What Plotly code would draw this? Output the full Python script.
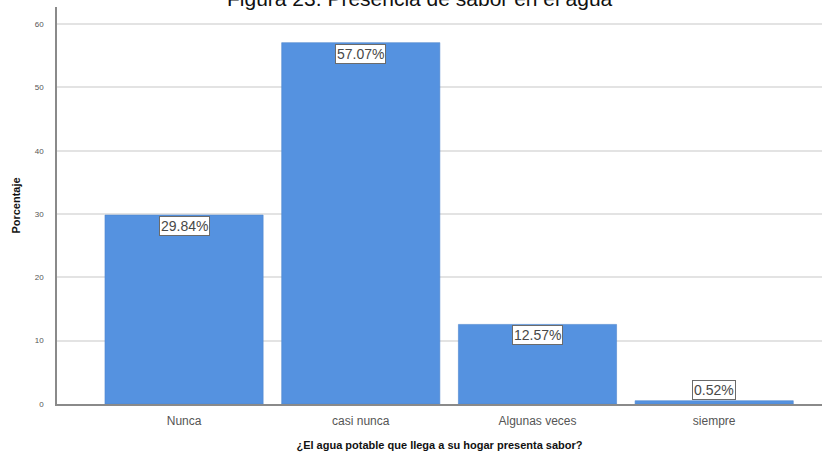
import plotly.graph_objects as go

categories = ["Nunca", "casi nunca", "Algunas veces", "siempre"]
percentages = [29.84, 57.07, 12.57, 0.52]
y_ticks = [0, 10, 20, 30, 40, 50, 60]

bar_color = "#5592e0"
font_family = "Liberation Sans, Arial, sans-serif"

fig = go.Figure()
fig.add_trace(go.Bar(
    x=list(range(len(categories))),
    y=percentages,
    width=0.895,
    marker=dict(color=bar_color, line=dict(color="#4f86cf", width=0.6)),
    hoverinfo="skip",
))

# value boxes sitting at the top of each bar
for i, v in enumerate(percentages):
    fig.add_annotation(
        x=i, y=v, xref="x", yref="y",
        text=f"{v:.2f}%",
        showarrow=False,
        yanchor="top" if v > 3 else "bottom",
        yshift=-1 if v > 3 else 1,
        font=dict(family=font_family, size=14, color="#484848"),
        bgcolor="white",
        bordercolor="#6b6b6b",
        borderwidth=1,
        borderpad=1,
    )

# chart heading, placed at the very top edge of the page
fig.add_annotation(
    x=0.474, y=1, xref="paper", yref="paper",
    xanchor="center", yanchor="middle", yshift=9,
    text="Figura 23. Presencia de sabor en el agua",
    showarrow=False,
    font=dict(family=font_family, size=21, color="#111111"),
)

fig.update_layout(
    width=832, height=461,
    margin=dict(l=57, r=10, t=7, b=57),
    paper_bgcolor="white",
    plot_bgcolor="white",
    showlegend=False,
    xaxis=dict(
        range=[-0.719, 3.61],
        tickmode="array",
        tickvals=list(range(len(categories))),
        ticktext=categories,
        ticks="",
        showgrid=False,
        showline=True, linecolor="#8a8a8a", linewidth=1.5,
        tickfont=dict(family=font_family, size=12, color="#555555"),
        ticklabelstandoff=5,
        title=dict(
            text="<b>¿El agua potable que llega a su hogar presenta sabor?</b>",
            font=dict(family=font_family, size=11, color="#111111"),
            standoff=14,
        ),
        zeroline=False,
    ),
    yaxis=dict(
        range=[0, 62.7],
        tickmode="array",
        tickvals=y_ticks,
        ticks="",
        showgrid=True, gridcolor="#e3e3e3", gridwidth=2,
        showline=True, linecolor="#8a8a8a", linewidth=1.5,
        zeroline=False,
        tickfont=dict(family=font_family, size=8, color="#555555"),
        ticklabelstandoff=10,
        title=dict(
            text="<b>Porcentaje</b>",
            font=dict(family=font_family, size=11, color="#111111"),
            standoff=12,
        ),
    ),
)

fig.write_html("out.html")
